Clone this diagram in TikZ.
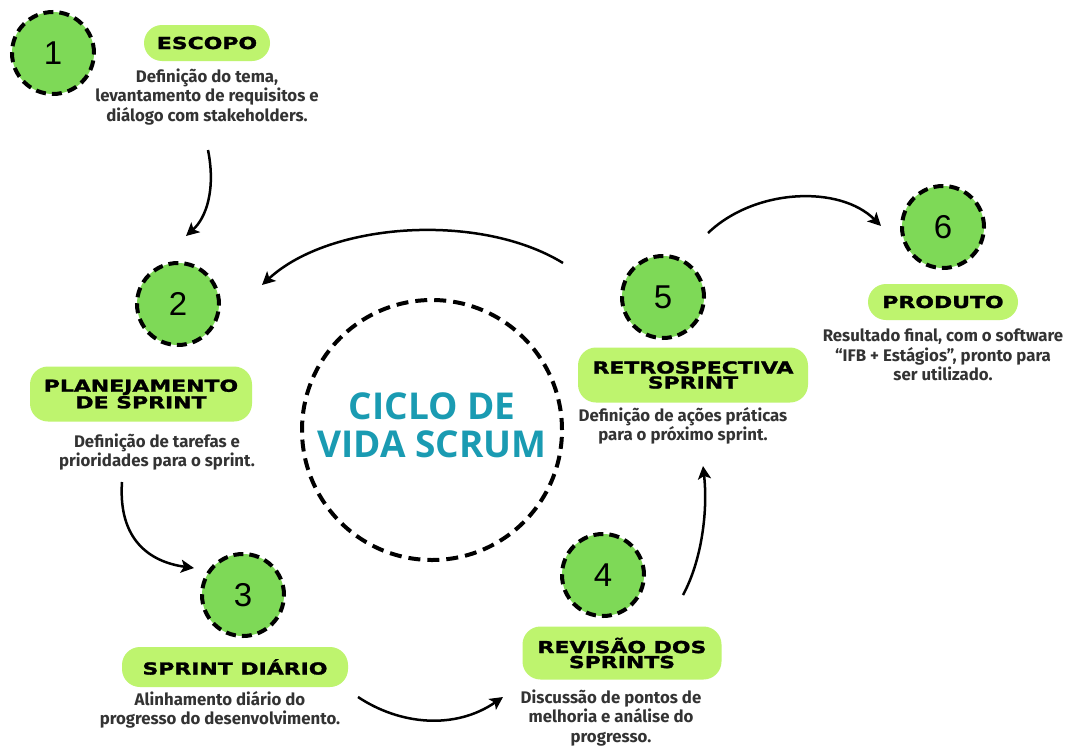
\documentclass[tikz,border=0pt]{standalone}
\usepackage{fontspec}
\setmainfont{Fira Sans}
\newfontfamily\pillfont{DejaVu Sans}[BoldFeatures={FakeStretch=1.33, FakeBold=1.6}]
\newfontfamily\numfont{Liberation Sans}
\newfontfamily\titlefont{Open Sans}
\usetikzlibrary{arrows.meta}
\definecolor{circgreen}{HTML}{7ED957}
\definecolor{pillgreen}{HTML}{BEF46E}
\definecolor{desctext}{HTML}{333333}
\definecolor{titleteal}{HTML}{1A9BB2}
\begin{document}
\begin{tikzpicture}[x=1pt,y=-1pt,
  numcirc/.style={circle, draw=black, fill=circgreen, line width=4pt, dash pattern=on 10pt off 6pt, minimum size=82pt, inner sep=0pt, font=\numfont\fontsize{33}{33}\selectfont},
  pill/.style={rounded corners=18pt, fill=pillgreen, inner sep=0pt, align=center, font=\pillfont\bfseries\fontsize{16.5}{15}\selectfont},
  desc/.style={align=center, text=desctext, font=\bfseries\fontsize{16.8}{19.5}\selectfont, inner sep=0pt},
  flow/.style={line width=2.5pt, -{Stealth[length=13pt,width=13pt,inset=3pt]}}
]
\useasboundingbox (0,0) rectangle (1070,747);
\fill[white] (0,0) rectangle (1070,747);

% centre
\node[circle, draw=black, line width=4pt, dash pattern=on 12pt off 7pt, minimum size=260pt, inner sep=0pt] (center) at (432,430) {};
\node[align=center, text=titleteal, font=\titlefont\bfseries\fontsize{37}{38}\selectfont] (title) at (432,425) {CICLO DE\\VIDA SCRUM};

% step circles
\node[numcirc] (c1) at (53,53) {1};
\node[numcirc] (c2) at (178,304) {2};
\node[numcirc] (c3) at (243,595) {3};
\node[numcirc] (c4) at (603,575) {4};
\node[numcirc] (c5) at (663,297) {5};
\node[numcirc] (c6) at (943,227) {6};

% pills
\node[pill, minimum width=126pt, minimum height=36pt] (p1) at (207,43) {ESCOPO};
\node[pill, minimum width=222pt, minimum height=55pt] (p2) at (141,394) {PLANEJAMENTO\\DE SPRINT};
\node[pill, minimum width=226pt, minimum height=40pt] (p3) at (235,667) {SPRINT DIÁRIO};
\node[pill, minimum width=199pt, minimum height=53pt] (p4) at (622,653) {REVISÃO DOS\\SPRINTS};
\node[pill, minimum width=230pt, minimum height=55pt] (p5) at (693,375) {RETROSPECTIVA\\SPRINT};
\node[pill, minimum width=150pt, minimum height=36pt] (p6) at (943,302) {PRODUTO};

% descriptions
\node[desc] (d1) at (207,97) {Definição do tema,\\levantamento de requisitos e\\diálogo com stakeholders.};
\node[desc] (d2) at (157,452) {Definição de tarefas e\\prioridades para o sprint.};
\node[desc] (d3) at (220,710) {Alinhamento diário do\\progresso do desenvolvimento.};
\node[desc] (d4) at (611,718) {Discussão de pontos de\\melhoria e análise do\\progresso.};
\node[desc] (d5) at (683,426) {Definição de ações práticas\\para o próximo sprint.};
\node[desc] (d6) at (943,355) {Resultado final, com o software\\“IFB + Estágios”, pronto para\\ser utilizado.};

% connector ends
\coordinate (a1s) at (208,150);
\coordinate (a1e) at (186,236);
\coordinate (a2s) at (563,263);
\coordinate (a2e) at (262,285);
\coordinate (a3s) at (122,482);
\coordinate (a3e) at (194,568);
\coordinate (a4s) at (358,697);
\coordinate (a4e) at (503,697);
\coordinate (a5s) at (683,595);
\coordinate (a5e) at (703,466);
\coordinate (a6s) at (708,233);
\coordinate (a6e) at (881,226);

\draw[flow] (a1s) .. controls (216,190) and (206,218) .. (a1e);
\draw[flow] (a2s) .. controls (480,212) and (330,222) .. (a2e);
\draw[flow] (a3s) .. controls (118,540) and (150,562) .. (a3e);
\draw[flow] (a4s) .. controls (400,725) and (455,730) .. (a4e);
\draw[flow] (a5s) .. controls (702,560) and (708,510) .. (a5e);
\draw[flow] (a6s) .. controls (755,188) and (840,185) .. (a6e);
\end{tikzpicture}
\end{document}
